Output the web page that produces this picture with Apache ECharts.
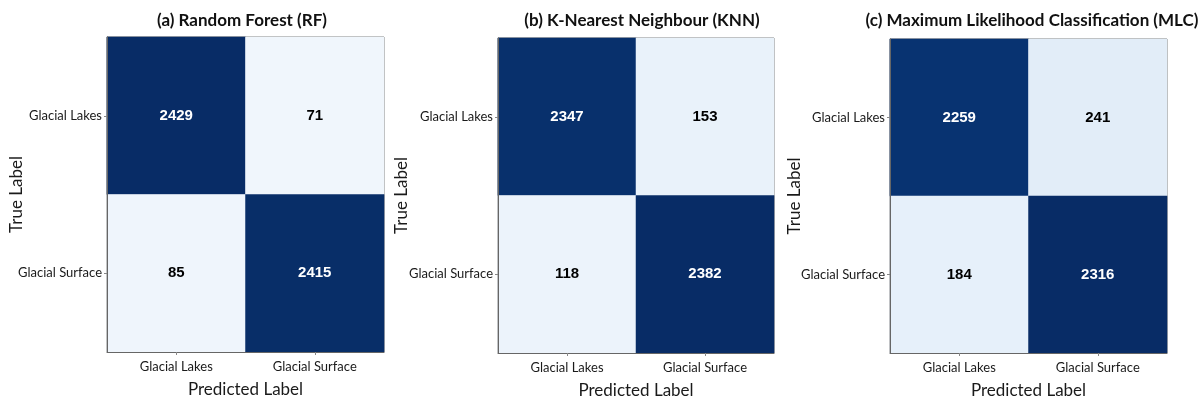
<!DOCTYPE html>
<html>
<head>
<meta charset="utf-8">
<script src="https://cdn.jsdelivr.net/npm/echarts@6/dist/echarts.min.js"></script>
<style>
html,body{margin:0;padding:0;background:#fff;}
#chart{width:1200px;height:403px;}
</style>
</head>
<body>
<div id="chart"></div>
<script>
// ---- data ----
const classes = ['Glacial Lakes', 'Glacial Surface'];
const titles = ['(a) Random Forest (RF)', '(b) K-Nearest Neighbour (KNN)', '(c) Maximum Likelihood Classification (MLC)'];
// rows = true label, cols = predicted label
const rfMatrix  = [[2429, 71], [85, 2415]];
const knnMatrix = [[2347, 153], [118, 2382]];
const mlcMatrix = [[2259, 241], [184, 2316]];
const xAxisName = 'Predicted Label';
const yAxisName = 'True Label';

const matrices = [rfMatrix, knnMatrix, mlcMatrix];
const blues = ['#f5f9fe','#deebf7','#c6dbef','#9ecae1','#6baed6','#4292c6','#2171b5','#08519c','#082c66'];

const grids = [
  {left: 107, top: 37, width: 277, height: 315},
  {left: 498, top: 38, width: 276, height: 315},
  {left: 890, top: 39, width: 277, height: 314}
];
const titleX = [237, 637, 1027];
const yNameGap = [82, 88, 87];

const labelFont = 'Lato, "Open Sans", sans-serif';

const option = {
  backgroundColor: '#fff',
  animation: false,
  title: titles.map((t, i) => ({
    text: t, left: titleX[i], top: 7, textAlign: 'center',
    textStyle: {fontFamily: labelFont, fontWeight: 'bold', fontSize: 17, color: '#111'}
  })),
  grid: grids.map(g => Object.assign({show: true, borderColor: '#666', borderWidth: 1, backgroundColor: 'transparent', containLabel: false, outerBoundsMode: 'none'}, g)),
  xAxis: grids.map((g, i) => ({
    type: 'category', gridIndex: i, data: classes,
    name: xAxisName, nameLocation: 'middle', nameGap: 29, nameMoveOverlap: false,
    nameTextStyle: {fontFamily: labelFont, fontSize: 17, color: '#1a1a1a'},
    axisLine: {show: true, lineStyle: {color: '#666'}},
    axisTick: {show: true, alignWithLabel: true, length: 3, lineStyle: {color: '#888'}},
    axisLabel: {fontFamily: labelFont, fontSize: 13, color: '#1a1a1a', margin: 8},
    splitLine: {show: false}, z: 10
  })),
  yAxis: grids.map((g, i) => ({
    type: 'category', gridIndex: i, data: classes, inverse: true,
    name: yAxisName, nameLocation: 'middle', nameGap: yNameGap[i], nameRotate: 90, nameMoveOverlap: false,
    nameTextStyle: {fontFamily: labelFont, fontSize: 17, color: '#1a1a1a'},
    axisLine: {show: true, lineStyle: {color: '#666'}},
    axisTick: {show: true, alignWithLabel: true, length: 3, lineStyle: {color: '#888'}},
    axisLabel: {fontFamily: labelFont, fontSize: 13, color: '#1a1a1a', margin: 5},
    splitLine: {show: false}, z: 10
  })),
  visualMap: matrices.map((m, i) => {
    const flat = m.flat();
    return {
      type: 'continuous', show: false, seriesIndex: i,
      min: 0, max: Math.max(...flat), dimension: 2,
      inRange: {color: blues}
    };
  }),
  series: matrices.map((m, i) => {
    const maxV = Math.max(...m.flat());
    const data = [];
    m.forEach((row, r) => row.forEach((v, c) => {
      data.push({
        value: [c, r, v],
        label: {color: v > maxV / 2 ? '#fff' : '#000'}
      });
    }));
    return {
      type: 'heatmap', xAxisIndex: i, yAxisIndex: i, data: data,
      label: {
        show: true, formatter: p => p.value[2],
        fontFamily: '"Liberation Sans", Arial, sans-serif', fontWeight: 'bold', fontSize: 15
      },
      itemStyle: {borderWidth: 0}
    };
  })
};

const chart = echarts.init(document.getElementById('chart'), null, {renderer: 'canvas'});
chart.setOption(option);
</script>
</body>
</html>
